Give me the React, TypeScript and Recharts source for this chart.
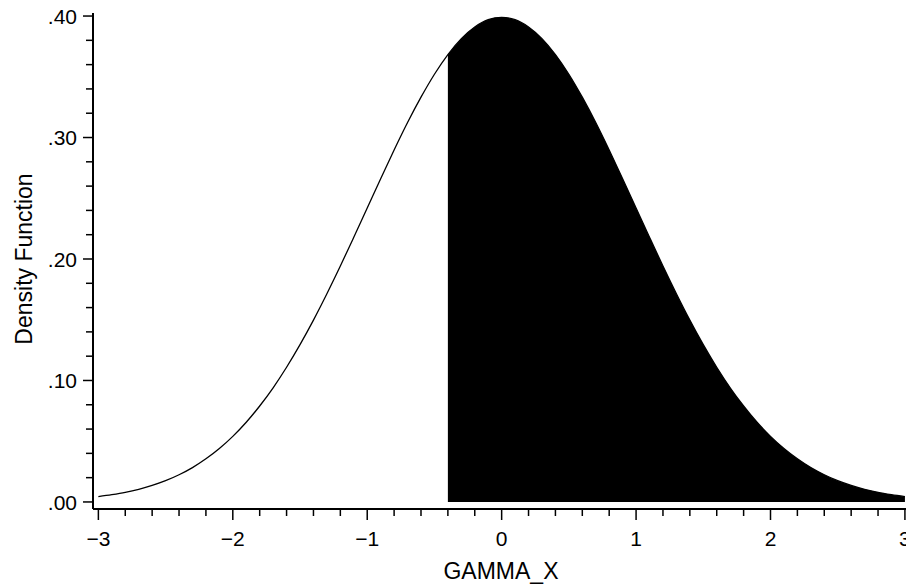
import React from "react";
import { ComposedChart, Area, Line, XAxis, YAxis } from "recharts";

// GAMMA_X grid and density
const xs = [
  -3.0, -2.9, -2.8, -2.7, -2.6, -2.5, -2.4, -2.3, -2.2, -2.1,
  -2.0, -1.9, -1.8, -1.7, -1.6, -1.5, -1.4, -1.3, -1.2, -1.1,
  -1.0, -0.9, -0.8, -0.7, -0.6, -0.5, -0.4, -0.3, -0.2, -0.1,
  0.0, 0.1, 0.2, 0.3, 0.4, 0.5, 0.6, 0.7, 0.8, 0.9,
  1.0, 1.1, 1.2, 1.3, 1.4, 1.5, 1.6, 1.7, 1.8, 1.9,
  2.0, 2.1, 2.2, 2.3, 2.4, 2.5, 2.6, 2.7, 2.8, 2.9, 3.0,
];
const density = [
  0.0044, 0.006, 0.0079, 0.0104, 0.0136, 0.0175, 0.0224, 0.0283, 0.0355, 0.044,
  0.054, 0.0656, 0.079, 0.094, 0.1109, 0.1295, 0.1497, 0.1714, 0.1942, 0.2179,
  0.242, 0.2661, 0.2897, 0.3123, 0.3332, 0.3521, 0.3683, 0.3814, 0.391, 0.397,
  0.3989, 0.397, 0.391, 0.3814, 0.3683, 0.3521, 0.3332, 0.3123, 0.2897, 0.2661,
  0.242, 0.2179, 0.1942, 0.1714, 0.1497, 0.1295, 0.1109, 0.094, 0.079, 0.0656,
  0.054, 0.044, 0.0355, 0.0283, 0.0224, 0.0175, 0.0136, 0.0104, 0.0079, 0.006, 0.0044,
];
const shadeFrom = -0.4;

const xMajor = [-3, -2, -1, 0, 1, 2, 3];
const xTickLabels = ["\u22123", "\u22122", "\u22121", "0", "1", "2", "3"];
const yMajor = [0, 0.1, 0.2, 0.3, 0.4];
const yTickLabels = [".00", ".10", ".20", ".30", ".40"];

const xTicks = Array.from({ length: 31 }, (_, i) => Math.round((-3 + i * 0.2) * 10) / 10);
const yTicks = Array.from({ length: 21 }, (_, i) => Math.round(i * 2) / 100);

const data = xs.map((x, i) => ({
  x,
  density: density[i],
  shade: x >= shadeFrom ? density[i] : null,
}));

const FONT = "'Liberation Sans', Arial, sans-serif";

const XTick = (props: any) => {
  const { x, y, payload } = props;
  const idx = xMajor.findIndex((v) => Math.abs(v - payload.value) < 1e-6);
  const major = idx >= 0;
  return (
    <g>
      <line x1={x} x2={x} y1={y} y2={y + (major ? 11 : 7)} stroke="#000" strokeWidth={1.5} />
      {major && (
        <text x={x} y={y + 37} textAnchor="middle" fontSize={21} fontFamily={FONT} fill="#000">
          {xTickLabels[idx]}
        </text>
      )}
    </g>
  );
};

const YTick = (props: any) => {
  const { x, y, payload } = props;
  const idx = yMajor.findIndex((v) => Math.abs(v - payload.value) < 1e-6);
  const major = idx >= 0;
  return (
    <g>
      <line x1={x - (major ? 10 : 7)} x2={x} y1={y} y2={y} stroke="#000" strokeWidth={1.5} />
      {major && (
        <text x={x - 16} y={y} dy="0.36em" textAnchor="end" fontSize={21} fontFamily={FONT} fill="#000">
          {yTickLabels[idx]}
        </text>
      )}
    </g>
  );
};

export default function App() {
  return (
    <div style={{ position: "absolute", left: 0, top: 0, width: 906, height: 586, background: "#fff" }}>
      <ComposedChart width={906} height={586} data={data} margin={{ top: 13, right: 0, bottom: 0, left: 0 }}>
        <XAxis
          dataKey="x"
          type="number"
          domain={[-3.04, 3.008]}
          allowDataOverflow
          ticks={xTicks}
          interval={0}
          tick={<XTick />}
          tickLine={false}
          tickSize={0}
          tickMargin={0}
          height={77}
          axisLine={{ stroke: "#000", strokeWidth: 2 }}
        />
        <XAxis
          xAxisId="top"
          orientation="top"
          dataKey="x"
          type="number"
          domain={[-3.04, 3.008]}
          allowDataOverflow
          tick={false}
          tickLine={false}
          height={0}
          axisLine={{ stroke: "#000", strokeWidth: 2 }}
        />
        <YAxis
          type="number"
          domain={[-0.0058, 0.4025]}
          allowDataOverflow
          ticks={yTicks}
          interval={0}
          tick={<YTick />}
          tickLine={false}
          tickSize={0}
          tickMargin={0}
          width={93}
          axisLine={{ stroke: "#000", strokeWidth: 2 }}
        />
        <Area
          dataKey="shade"
          type="monotone"
          baseValue={0}
          fill="#000"
          fillOpacity={1}
          stroke="none"
          isAnimationActive={false}
          connectNulls={false}
        />
        <Line
          dataKey="density"
          type="monotone"
          stroke="#000"
          strokeWidth={1.3}
          dot={false}
          isAnimationActive={false}
        />
      </ComposedChart>
      <div
        style={{
          position: "absolute",
          left: 24,
          top: 259,
          transform: "translate(-50%, -50%) rotate(-90deg)",
          whiteSpace: "nowrap",
          fontFamily: FONT,
          fontSize: 23,
          color: "#000",
        }}
      >
        Density Function
      </div>
      <div
        style={{
          position: "absolute",
          left: 501,
          top: 571,
          transform: "translate(-50%, -50%)",
          whiteSpace: "nowrap",
          fontFamily: FONT,
          fontSize: 23,
          color: "#000",
        }}
      >
        GAMMA_X
      </div>
    </div>
  );
}
